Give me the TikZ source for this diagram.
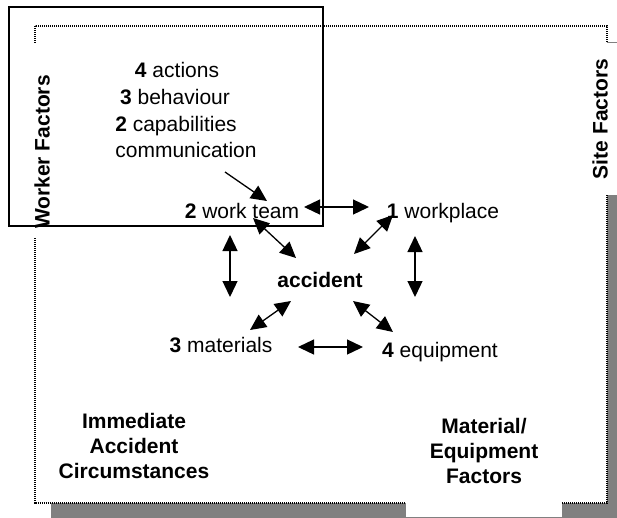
\documentclass[tikz,border=0pt]{standalone}
\usepackage{fontspec}
\setmainfont{Liberation Sans}
\usetikzlibrary{arrows.meta}
\begin{document}
\begin{tikzpicture}[x=1pt,y=-1pt,
  lbl/.style={font=\fontsize{21}{25}\selectfont, inner sep=0pt, anchor=base},
  blbl/.style={font=\fontsize{21}{25}\selectfont\bfseries, align=center, inner sep=0pt},
  conn/.style={line width=1.3pt, {Triangle[length=16pt,width=15pt]}-{Triangle[length=16pt,width=15pt]}},
  oneway/.style={line width=1.3pt, -{Triangle[length=16pt,width=15pt]}},
  dotframe/.style={dash pattern=on 1.2pt off 0.8pt, line width=1.5pt, fill=white},
  shadow/.style={fill=black!50, draw=none},
  cover/.style={fill=white, draw=none}
]
\useasboundingbox (0,0) rectangle (617,517);
% shadow and dotted frame
\fill[shadow] (51,42) rectangle (625,519);
\draw[dotframe] (35,26) rectangle (607,503);
% white covers behind the side labels
\fill[cover] (27,43) rectangle (55,238);
\fill[cover] (588,43) rectangle (617,195);
\fill[cover] (406,494) rectangle (562,517);
% worker factors box
\draw[line width=1.5pt] (9,7) rectangle (323,226);

% side labels
\node[blbl, rotate=90] (worker) at (42,152) {Worker Factors};
\node[blbl, rotate=90] (site) at (600,119) {Site Factors};
\node[blbl] (imm) at (134,446) {Immediate\\Accident\\Circumstances};
\node[blbl] (mat) at (484,451) {Material/\\Equipment\\Factors};

% worker list
\node[lbl] (act) at (177,77) {\textbf{4} actions};
\node[lbl] (beh) at (175,104) {\textbf{3} behaviour};
\node[lbl] (cap) at (176,131) {\textbf{2} capabilities};
\node[lbl] (com) at (186,157) {communication};

% central graph
\node[lbl] (wt) at (242,218) {\textbf{2} work team};
\node[lbl] (wp) at (443,218) {\textbf{1} workplace};
\node[lbl, font=\fontsize{21}{25}\selectfont\bfseries] (acc) at (320,287) {accident};
\node[lbl] (mt) at (221,352) {\textbf{3} materials};
\node[lbl] (eq) at (440,357) {\textbf{4} equipment};

% connector end points
\coordinate (c1a) at (225,172); \coordinate (c1b) at (267,201);
\coordinate (c2a) at (304,207); \coordinate (c2b) at (369,207);
\coordinate (c3a) at (253,218); \coordinate (c3b) at (296,258);
\coordinate (c4a) at (393,215); \coordinate (c4b) at (354,254);
\coordinate (c5a) at (230,235); \coordinate (c5b) at (230,297);
\coordinate (c6a) at (415,236); \coordinate (c6b) at (415,297);
\coordinate (c7a) at (250,330); \coordinate (c7b) at (291,301);
\coordinate (c8a) at (353,301); \coordinate (c8b) at (393,332);
\coordinate (c9a) at (298,347); \coordinate (c9b) at (363,347);

\draw[oneway] (c1a) -- (c1b);
\draw[conn] (c2a) -- (c2b);
\draw[conn] (c3a) -- (c3b);
\draw[conn] (c4a) -- (c4b);
\draw[conn] (c5a) -- (c5b);
\draw[conn] (c6a) -- (c6b);
\draw[conn] (c7a) -- (c7b);
\draw[conn] (c8a) -- (c8b);
\draw[conn] (c9a) -- (c9b);
\end{tikzpicture}
\end{document}
